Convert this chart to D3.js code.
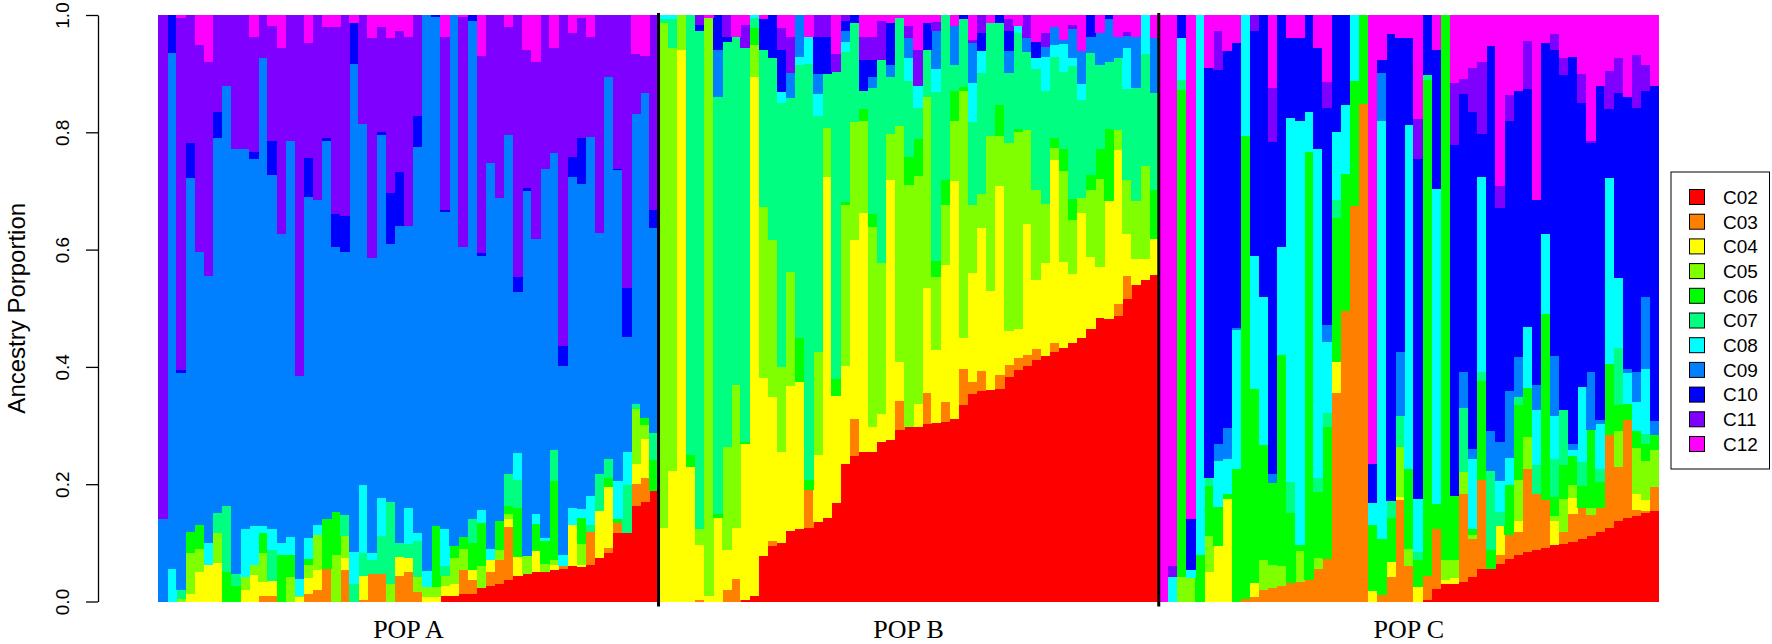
<!DOCTYPE html>
<html>
<head>
<meta charset="utf-8">
<script src="https://cdn.jsdelivr.net/npm/d3@7"></script>
<style>
  body { margin: 0; background: #fff; }
  text { font-family: "Liberation Sans", Arial, sans-serif; }
</style>
</head>
<body>
<div id="chart"></div>
<script>
// Width and height
var chart_width  = 1772;
var chart_height = 644;

// ancestry components, bottom to top of each bar
var components = ["C02","C03","C04","C05","C06","C07","C08","C09","C10","C11","C12"];
var comp_colors = ["#FF0000","#FF8000","#FFFF00","#80FF00","#00FF00","#00FF80",
                   "#00FFFF","#0080FF","#0000FF","#8000FF","#FF00FF"];
var pop_labels = ["POP A","POP B","POP C"];
var y_ticks = [0, 0.2, 0.4, 0.6, 0.8, 1.0];

// one row per individual: C02 .. C12
var pop_a = [
  [0,0,0,0,0,0,0,.14,0,.86,0],
  [0,0,0,0,0,0,.055,.88,.065,0,0],
  [0,0,0,.005,0,.015,0,.37,.005,.6,.005],
  [0,0,.013,.07,.036,0,0,.603,.06,.218,0],
  [0,0,.05,.04,.04,0,0,.466,0,.352,.052],
  [0,0,.062,0,0,0,.038,.455,0,.365,.08],
  [0,0,.066,.05,0,.035,0,.64,.043,.166,0],
  [0,0,0,0,.05,.113,0,.716,0,.121,0],
  [0,0,0,0,.027,.02,0,.725,0,.228,0],
  [0,0,.019,.023,0,0,.081,.649,0,.228,0],
  [0,0,.045,.018,0,0,.065,.627,.012,.196,.037],
  [0,.009,.025,.048,.035,0,.012,.798,0,.073,0],
  [0,.01,.025,0,0,.052,.037,.604,.058,.195,.019],
  [0,0,0,0,.08,0,.019,.527,0,.318,.056],
  [0,0,0,.042,.038,0,.03,.675,0,.215,0],
  [0,0,.007,.003,0,0,.028,.347,0,.615,0],
  [0,.013,.027,.022,.011,0,.035,.581,.068,.196,.047],
  [0,.02,.033,.06,0,0,.017,.555,0,.315,0],
  [0,.056,0,0,.085,0,0,.644,.005,.19,.02],
  [0,0,0,.08,.073,0,0,.452,.056,.319,.02],
  [0,.053,.022,.036,0,.037,0,.448,.062,.342,0],
  [0,0,0,0,0,.03,.055,.832,.07,0,.013],
  [0,.003,.04,0,0,.04,.116,.615,0,.186,0],
  [0,.047,0,0,0,.023,.013,.502,0,.375,.04],
  [0,.047,0,0,0,.064,.066,.618,.005,.18,.02],
  [0,0,0,.03,0,.14,0,.44,.086,.264,.04],
  [0,.043,.033,0,0,.023,0,.541,.093,.24,.027],
  [0,.05,.025,0,0,.023,.062,.48,0,.323,.037],
  [0,.017,0,.025,0,.062,.013,.658,.052,.173,0],
  [0,0,.007,.018,0,0,.027,.948,0,0,0],
  [0,0,.007,.017,.105,0,0,.867,.004,0,0],
  [.01,0,.017,.017,0,.017,.063,.54,.003,.296,.037],
  [.01,0,.02,.045,.02,0,0,.905,0,0,0],
  [.013,.04,0,.037,.02,0,0,.495,0,.392,.003],
  [.013,.023,.017,0,.047,.04,0,.85,.01,0,0],
  [.023,0,0,.037,.073,0,.023,.433,.005,.336,.07],
  [.027,.023,.021,0,0,0,.019,.658,0,.252,0],
  [.03,.04,0,.017,.05,0,0,.551,0,.312,0],
  [.037,.09,.013,.01,.013,.054,0,.578,0,.185,.02],
  [.043,0,.033,0,.083,.049,.045,.274,.027,.446,0],
  [.047,0,0,.03,0,0,0,.623,.005,.235,.06],
  [.05,0,.037,0,.045,0,.017,.47,0,.302,.08],
  [.051,0,0,.013,.04,0,.005,.628,0,.263,0],
  [.053,0,.01,.007,.136,.053,0,.505,0,.179,.057],
  [.055,.005,0,0,0,0,.02,.321,.035,.564,0],
  [.06,0,.07,0,0,0,.03,.565,.033,.213,.03],
  [.058,0,.005,.035,.045,0,.015,.553,.08,.204,.005],
  [.063,.056,0,0,0,.011,.05,.611,0,.171,.037],
  [.075,0,.08,0,0,.062,0,.411,0,.372,0],
  [.082,.009,.104,0,.016,.032,0,.652,0,.105,0],
  [.116,.017,0,0,.007,0,.065,.531,.002,.262,0],
  [.116,0,0,0,0,.083,.056,.196,.083,.466,0],
  [.163,.037,.035,.093,0,.009,0,.494,0,.102,.067],
  [.169,.041,.066,.024,.013,0,0,.553,0,.063,.07],
  [.188,0,0,0,.054,.045,0,.35,.031,.332,0]
];

var pop_b = [
  [0,0,.126,.86,0,.007,.007,0,0,0,0],
  [0,0,.223,.72,0,.05,.007,0,0,0,0],
  [0,0,.94,.06,0,0,0,0,0,0,0],
  [0,0,.229,0,.021,.75,0,0,0,0,0],
  [0,.003,.093,.027,0,.85,0,0,.01,.017,0],
  [0,0,.01,.985,0,0,0,0,0,0,.005],
  [0,0,.143,0,.007,.711,0,.08,.06,0,0],
  [0,.02,.068,.175,0,.69,0,0,.009,.037,0],
  [0,.038,.088,.243,0,.595,0,0,0,0,.037],
  [.003,0,.266,0,.003,.67,0,0,0,.04,.017],
  [.01,0,.885,.053,.029,.018,.005,0,0,0,0],
  [.078,0,.303,.292,0,.268,0,0,.052,0,.007],
  [.095,.009,.245,.267,0,.311,0,0,.073,0,0],
  [.1,0,.155,.146,0,.45,.018,0,.072,.037,.023],
  [.12,0,.248,.195,0,.296,0,.043,0,.062,.037],
  [.124,0,.25,0,.076,.465,.013,.072,0,0,0],
  [.126,.064,0,0,.017,.709,.047,0,0,0,.037],
  [.136,0,.113,.176,0,.403,.037,.035,.063,.037,0],
  [.143,0,.581,.083,0,.093,0,0,.063,.037,0],
  [.168,0,.182,0,.029,.523,0,0,0,.032,.066],
  [.235,0,.167,.274,.005,.256,.018,.019,.017,.01,0],
  [.248,.064,.304,.201,0,.17,0,0,.013,0,0],
  [.255,0,.408,.157,.02,.031,0,0,.053,.04,.037],
  [.255,0,.043,.341,.023,.216,0,.018,.029,.04,.037],
  [.272,0,.047,.257,0,.347,0,0,0,.066,.01],
  [.276,0,.444,.078,0,.098,0,.02,.072,0,.013],
  [.292,.05,.066,.402,0,.184,0,0,0,0,.005],
  [.297,0,0,.414,.047,.13,.04,.033,0,.021,.019],
  [.297,0,.039,.389,.064,.053,.037,0,0,.061,.06],
  [.302,.053,.179,.326,0,.08,0,0,.047,0,.013],
  [.304,0,.125,.125,.027,.288,.04,.065,0,.015,.012],
  [.306,.035,.233,.102,.042,.282,0,0,0,0,0],
  [.312,0,.405,.103,.05,.045,0,.066,0,0,.019],
  [.334,.062,.053,.42,.007,.116,0,0,.007,0,0],
  [.354,.02,.186,.116,0,.141,.066,.068,0,.005,.043],
  [.359,.033,.244,.058,0,.207,.037,0,.031,.03,0],
  [.361,0,.169,.264,0,.193,0,0,0,0,.013],
  [.362,.025,.322,.085,.052,.141,0,0,.013,0,0],
  [.382,.021,.058,.32,0,.12,0,.037,.035,.02,.007],
  [.395,.02,.05,.335,.005,.165,.011,0,0,0,.019],
  [.402,.019,.222,.161,0,.133,0,.023,0,.04,0],
  [.412,.018,.118,.153,0,.207,.019,0,.027,0,.046],
  [.419,0,.159,.1,0,.193,.058,.017,0,.025,.03],
  [.425,.015,.312,.02,.018,.138,.02,.03,0,0,.021],
  [.432,0,.148,.154,.039,.131,.047,.007,0,0,.043],
  [.44,0,.118,.093,.035,.227,.013,.05,0,.007,.017],
  [.449,0,.214,.025,0,.167,.027,.057,0,0,.061],
  [.465,0,.123,.114,.025,.209,0,.027,.037,0,0],
  [.483,0,.086,.15,.051,.143,0,.056,0,0,.03],
  [.48,0,.2,0,.123,.113,0,.073,.007,0,0],
  [.487,.02,.264,.033,0,.123,0,.037,0,0,.037],
  [.516,.039,.072,.091,0,.156,.07,.02,0,.007,.029],
  [.54,0,.045,.098,0,.193,0,.088,0,0,.037],
  [.548,0,.036,.158,0,.191,.066,0,0,0,0],
  [.556,0,.062,0,.083,.166,0,.093,0,0,.04]
];

var pop_c = [
  [0,0,0,0,0,0,0,0,0,0,1],
  [0,0,0,0,0,0,.042,0,0,.018,.94],
  [0,0,0,.042,.83,.018,.071,0,.039,0,0],
  [0,0,0,.04,0,0,.013,0,.087,0,.86],
  [0,0,0,0,.08,0,.92,0,0,0,0],
  [0,0,.051,.06,.086,.013,0,0,.70,0,.09],
  [0,0,.095,0,.066,0,.078,.03,.636,.066,.028],
  [0,0,.175,0,.008,0,.06,.052,.644,0,.061],
  [0,0,0,0,.226,0,.237,.004,.485,0,.048],
  [0,.004,0,0,.79,0,.206,0,0,0,0],
  [0,.007,.025,0,.33,0,.228,0,.383,.028,0],
  [0,.02,0,.051,.195,0,.254,0,.48,0,0],
  [0,.023,0,.039,.141,0,0,.015,.567,.091,.125],
  [0,.027,0,.033,.36,0,.184,0,.396,0,0],
  [0,.031,0,0,.12,.052,.621,0,.136,0,.04],
  [0,.033,0,.053,.01,0,.724,0,.14,0,.04],
  [0,.037,0,0,.73,0,.068,0,.166,0,0],
  [0,.055,0,.02,.111,.025,.56,0,.173,0,.056],
  [0,.073,0,0,.224,.024,.122,.029,.37,.044,.114],
  [0,.355,.054,0,.245,.03,.116,0,.2,0,0],
  [0,.496,0,0,.233,0,.118,0,.153,0,0],
  [0,.674,0,0,.214,0,.112,0,0,0,0],
  [0,.849,0,0,.151,0,0,0,0,0,0],
  [0,0,.018,0,.113,0,.037,0,.066,0,.765],
  [0,.011,0,0,.095,0,.713,.082,.022,0,.076],
  [0,.042,.025,0,.075,.029,0,0,.797,0,.032],
  [0,.173,.005,.085,0,.053,0,.11,.535,0,.04],
  [0,.06,0,.03,.136,0,.587,0,.148,0,.04],
  [0,0,.025,0,.045,.015,.09,0,.579,.068,.178],
  [.003,.041,0,0,.846,.007,0,0,.103,0,0],
  [.022,.102,0,0,.042,0,.538,0,.236,0,.06],
  [.03,0,.007,.033,.93,0,0,0,0,0,0],
  [.03,0,.01,.03,.11,0,0,0,.598,.106,.116],
  [.033,.151,0,.037,0,.109,0,.062,.474,.025,.11],
  [.042,.064,0,.007,.01,0,.12,.017,.576,.075,.09],
  [.056,.151,0,0,.169,.015,.332,0,.073,.123,.08],
  [.056,0,0,0,.032,.134,0,.068,.656,0,.053],
  [.064,.015,.049,0,0,.025,.053,.066,.399,.037,.292],
  [.073,.04,0,0,.086,0,.045,.115,.46,.045,.136],
  [.08,.038,.02,.07,.128,.013,0,.068,.454,0,.13],
  [.084,.142,0,.055,.082,0,.105,0,.405,.081,.045],
  [.088,.096,0,0,0,.049,.093,.043,.316,0,.316],
  [.091,.082,0,0,.317,0,.137,0,.326,0,.048],
  [.096,0,.041,.009,.033,.064,.073,.102,.522,.027,.033],
  [.098,.02,0,.057,.058,.093,0,0,.571,.03,.073],
  [.102,.047,.028,.021,.05,0,.011,.01,.659,0,.072],
  [.106,.053,0,0,.038,.04,.128,0,.485,.049,.101],
  [.111,.037,0,.011,.133,0,0,.1,.389,.005,.214],
  [.118,.042,0,0,.043,.023,.076,.008,.569,0,.121],
  [.126,.157,0,0,.122,0,.316,0,.118,.064,.096],
  [.138,.092,0,.061,.045,.096,.12,0,.316,.06,.073],
  [.143,.166,0,0,.028,0,.053,.007,.464,0,.14],
  [.146,.01,.027,.078,.03,0,.05,.05,.45,.09,.069],
  [.151,.004,.018,.066,.03,.017,.11,.123,.352,.043,.086],
  [.155,.04,0,.064,.025,0,0,.024,.571,0,.121]
];

// build one table of individuals
var pops = [pop_a, pop_b, pop_c];
var rows = [];
pops.forEach(function(p, pi){
  p.forEach(function(r){
    var o = {idx: rows.length, pop: pi};
    components.forEach(function(k, ki){ o[k] = r[ki]; });
    rows.push(o);
  });
});

// plot region
var plot_left = 158.3, plot_right = 1659, plot_top = 15, plot_bottom = 601.5;

var x = d3.scaleBand()
  .domain(d3.range(rows.length))
  .range([plot_left, plot_right])
  .padding(0);

var y = d3.scaleLinear()
  .domain([0, 1])
  .range([plot_bottom, plot_top]);

var color = d3.scaleOrdinal().domain(components).range(comp_colors);

var svg = d3.select("#chart")
  .append("svg")
  .attr("width", chart_width)
  .attr("height", chart_height);

// stacked proportions (each bar normalised to 1)
var series = d3.stack()
  .keys(components)
  .offset(d3.stackOffsetExpand)(rows);

svg.append("g")
  .attr("shape-rendering", "crispEdges")
  .selectAll("g")
  .data(series)
  .enter()
  .append("g")
  .attr("fill", function(d){ return color(d.key); })
  .selectAll("rect")
  .data(function(d){ return d; })
  .enter()
  .append("rect")
  .attr("x", function(d){ return x(d.data.idx); })
  .attr("width", x.bandwidth() + 0.4)
  .attr("y", function(d){ return y(d[1]); })
  .attr("height", function(d){ return Math.max(0, y(d[0]) - y(d[1])); });

// population dividers
var counts = pops.map(function(p){ return p.length; });
var starts = [0];
counts.forEach(function(c, i){ starts.push(starts[i] + c); });

svg.selectAll("line.div")
  .data(starts.slice(1, -1))
  .enter()
  .append("line")
  .attr("class", "div")
  .attr("x1", function(d){ return x(d); })
  .attr("x2", function(d){ return x(d); })
  .attr("y1", plot_top - 2)
  .attr("y2", plot_bottom + 5)
  .attr("stroke", "#000")
  .attr("stroke-width", 3);

// population labels
svg.selectAll("text.pop")
  .data(pop_labels)
  .enter()
  .append("text")
  .attr("class", "pop")
  .attr("x", function(d, i){
    return (x(starts[i]) + x(starts[i + 1] - 1) + x.bandwidth()) / 2;
  })
  .attr("y", 638)
  .attr("text-anchor", "middle")
  .style("font-family", "'Liberation Serif', 'Times New Roman', serif")
  .style("font-size", "26px")
  .text(function(d){ return d; });

// y axis
var yAxis = d3.axisLeft(y)
  .tickValues(y_ticks)
  .tickFormat(d3.format(".1f"))
  .tickSize(12)
  .tickSizeOuter(0);

var ga = svg.append("g")
  .attr("transform", "translate(98,0)")
  .call(yAxis);
ga.select(".domain").attr("stroke", "#000").attr("stroke-width", 1.3);
ga.selectAll(".tick line").attr("stroke", "#000").attr("stroke-width", 1.3);
ga.selectAll(".tick text")
  .attr("x", null)
  .attr("dy", "0.36em")
  .attr("text-anchor", "middle")
  .attr("transform", "translate(-36,0) rotate(-90)")
  .attr("fill", "#000")
  .style("font-family", "'Liberation Sans', Arial, sans-serif")
  .style("font-size", "19px");

svg.append("text")
  .attr("transform", "translate(16," + ((plot_top + plot_bottom) / 2) + ") rotate(-90)")
  .attr("dy", "0.36em")
  .attr("text-anchor", "middle")
  .style("font-size", "24px")
  .text("Ancestry Porportion");

// legend
var lg = svg.append("g").attr("transform", "translate(1671,172)");
lg.append("rect")
  .attr("width", 98.5)
  .attr("height", 297)
  .attr("fill", "#fff")
  .attr("stroke", "#000")
  .attr("stroke-width", 1);

var items = lg.selectAll("g.item")
  .data(components)
  .enter()
  .append("g")
  .attr("class", "item")
  .attr("transform", function(d, i){ return "translate(0," + (25 + i * 24.7) + ")"; });

items.append("rect")
  .attr("x", 18.5)
  .attr("y", -7.5)
  .attr("width", 15)
  .attr("height", 15)
  .attr("fill", function(d){ return color(d); })
  .attr("stroke", "#000")
  .attr("stroke-width", 1);

items.append("text")
  .attr("x", 52)
  .attr("dy", "0.36em")
  .style("font-size", "19px")
  .text(function(d){ return d; });
</script>
</body>
</html>
